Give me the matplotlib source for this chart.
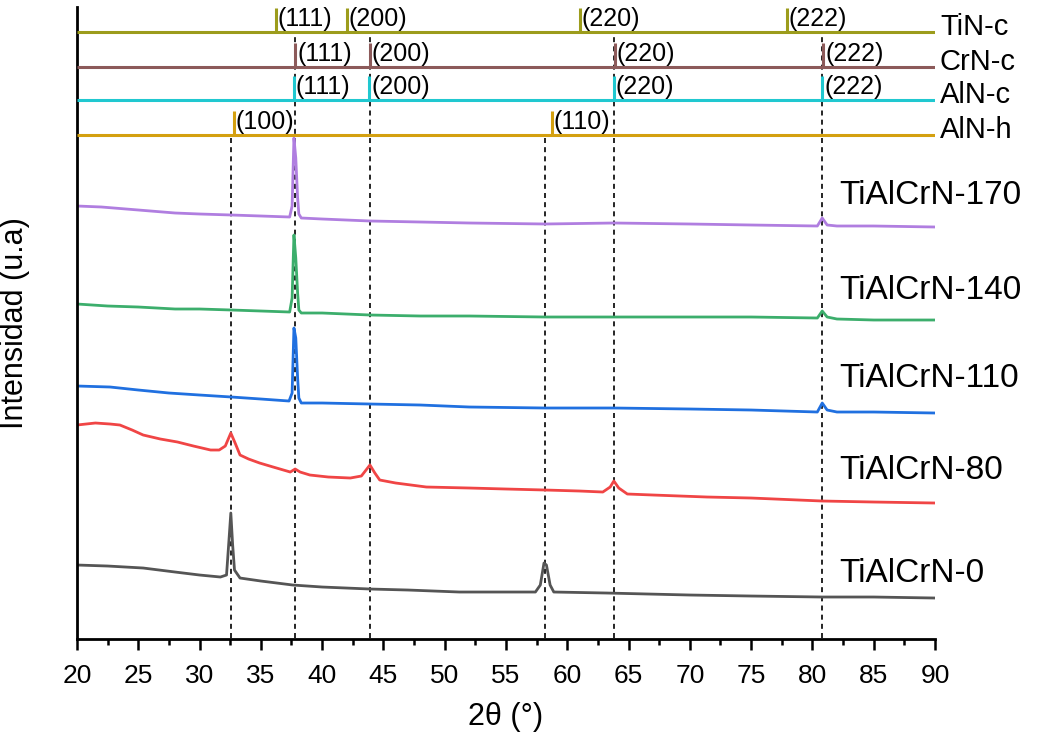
import matplotlib.pyplot as plt

plt.rcParams['font.family'] = ['Liberation Sans', 'DejaVu Sans']

# XRD patterns, intensity (arbitrary units)
x_0 = [20, 22.5, 25.4, 28, 30, 31.7, 32.2, 32.4, 32.55, 32.7, 32.85, 33.3, 35, 37.6, 40,
       43.9, 47, 51.2, 55, 57.4, 57.8, 58.1, 58.3, 58.6, 58.9, 63.2, 70, 75, 80.8, 85, 90]
y_0 = [73, 72, 70, 66, 63, 61, 63, 98, 125, 93, 68, 60, 57, 53, 51,
       49, 48, 46, 46, 46, 53, 75, 73, 53, 46, 45, 43, 42, 41, 41, 40]

x_80 = [20, 21.5, 22.7, 23.5, 24.5, 25.4, 26.8, 28.2, 29.5, 30.9, 31.6, 32.1, 32.55, 32.9,
        33.3, 34.0, 34.9, 36.0, 37.4, 37.8, 38.2, 39, 40.5, 42.3, 43.2, 43.9, 44.3, 44.7,
        46, 48.5, 52, 55, 58.2, 61, 62.9, 63.5, 63.8, 64.2, 64.9, 67, 71.4, 75, 80.8, 85, 90]
y_80 = [213, 215, 214, 213, 208, 203, 199, 196, 192, 188, 188, 192, 205, 195,
        183, 179, 175, 171, 166, 169, 166, 163, 161, 160, 162, 173, 165, 158,
        155, 151, 150, 149, 148, 147, 146, 151, 157, 150, 144, 143, 141, 140, 137, 136, 135]

x_110 = [20, 22.7, 25, 27.5, 30, 32.6, 35, 37.3, 37.55, 37.7, 37.85, 38.0, 38.1, 38.3, 40,
         43.9, 48, 52, 58.2, 63.8, 70, 75, 80.4, 80.8, 81.2, 82, 85, 90]
y_110 = [252, 251, 248, 245, 243, 241, 239, 237, 245, 310, 300, 260, 240, 235, 235,
         234, 233, 231, 230, 230, 229, 228, 226, 235, 228, 226, 226, 225]

x_140 = [20, 22.5, 25, 28, 30, 32.6, 35, 37.35, 37.55, 37.7, 37.85, 38.0, 38.1, 38.3, 40,
         43.9, 48, 52, 58.2, 63.8, 70, 75, 80.4, 80.8, 81.2, 82, 85, 90]
y_140 = [334, 332, 331, 329, 329, 328, 327, 326, 340, 403, 380, 345, 328, 325, 325,
         323, 322, 322, 321, 321, 321, 321, 320, 327, 321, 319, 318, 318]

x_170 = [20, 22, 25, 28, 30, 32.6, 35, 37.35, 37.55, 37.7, 37.85, 38.0, 38.1, 38.3, 40,
         43.9, 48, 52, 58.2, 63.8, 70, 75, 80.4, 80.8, 81.2, 82, 85, 90]
y_170 = [432, 431, 428, 425, 424, 423, 422, 421, 432, 500, 480, 440, 424, 420, 419,
         417, 416, 415, 414, 415, 414, 413, 412, 420, 413, 412, 412, 411]

sample_names = ["TiAlCrN-0", "TiAlCrN-80", "TiAlCrN-110", "TiAlCrN-140", "TiAlCrN-170"]
sample_colors = ["#555555", "#f04545", "#2070e0", "#3cae6c", "#b07ee0"]
sample_label_y = [65, 168, 260, 348, 443]

# reference cards (stick positions)
tin_pos = [36.2, 42.0, 61.0, 77.9]
tin_hkl = ["(111)", "(200)", "(220)", "(222)"]
crn_pos = [37.8, 43.9, 63.9, 80.9]
crn_hkl = ["(111)", "(200)", "(220)", "(222)"]
alnc_pos = [37.7, 43.85, 63.8, 80.8]
alnc_hkl = ["(111)", "(200)", "(220)", "(222)"]
alnh_pos = [32.8, 58.75]
alnh_hkl = ["(100)", "(110)"]

ref_names = ["TiN-c", "CrN-c", "AlN-c", "AlN-h"]
ref_colors = ["#9c9c1c", "#8c5a5a", "#20c8d0", "#d4a010"]
ref_base = [606, 571, 538, 503]

# dashed guide lines: position, top
guide_x = [32.6, 37.8, 43.9, 58.2, 63.8, 80.8]
guide_top = [503, 606, 606, 503, 606, 606]

fig = plt.figure(figsize=(10.39, 7.44), dpi=100)
ax = fig.add_axes([0.0741, 0.1411, 0.8258, 0.8495])

for gx, gt in zip(guide_x, guide_top):
    ax.plot([gx, gx], [0, gt], color="black", lw=1.2, ls=(0, (3, 2.5)), zorder=1)

curves = [(x_0, y_0), (x_80, y_80), (x_110, y_110), (x_140, y_140), (x_170, y_170)]
for (xs, ys), name, col, ly in zip(curves, sample_names, sample_colors, sample_label_y):
    ax.plot(xs, ys, color=col, lw=2, zorder=2)
    ax.text(82.2, ly, name, fontsize=24, va="center", ha="left")

refs = [(tin_pos, tin_hkl), (crn_pos, crn_hkl), (alnc_pos, alnc_hkl), (alnh_pos, alnh_hkl)]
for (pos, hkl), name, col, base in zip(refs, ref_names, ref_colors, ref_base):
    ax.plot([20, 90], [base, base], color=col, lw=2.2, zorder=3, solid_capstyle="butt")
    ax.vlines(pos, base, base + 24, color=col, lw=2.2, zorder=3)
    for p, h in zip(pos, hkl):
        ax.text(p + 0.15, base + 13, h, fontsize=18, va="center", ha="left")
    ax.text(90.4, base + 5, name, fontsize=21, va="center", ha="left", clip_on=False)

ax.set_xlim(20, 90)
ax.set_ylim(-1, 631)
ax.set_xticks(range(20, 91, 5))
ax.set_xticks([x + 2.5 for x in range(20, 90, 5)], minor=True)
ax.set_yticks([])
ax.tick_params(axis="x", which="major", direction="out", length=8, width=1.8, labelsize=19, pad=10)
ax.tick_params(axis="x", which="minor", direction="out", length=4.5, width=1.8)

for side in ["top", "right"]:
    ax.spines[side].set_visible(False)
ax.spines["left"].set_linewidth(2)
ax.spines["bottom"].set_linewidth(2)

ax.set_xlabel("2θ (°)", fontsize=22, labelpad=10)
ax.set_ylabel("Intensidad (u.a)", fontsize=22)
ax.yaxis.set_label_coords(-0.055, 0.5)

fig.savefig("out.png", dpi=100)
